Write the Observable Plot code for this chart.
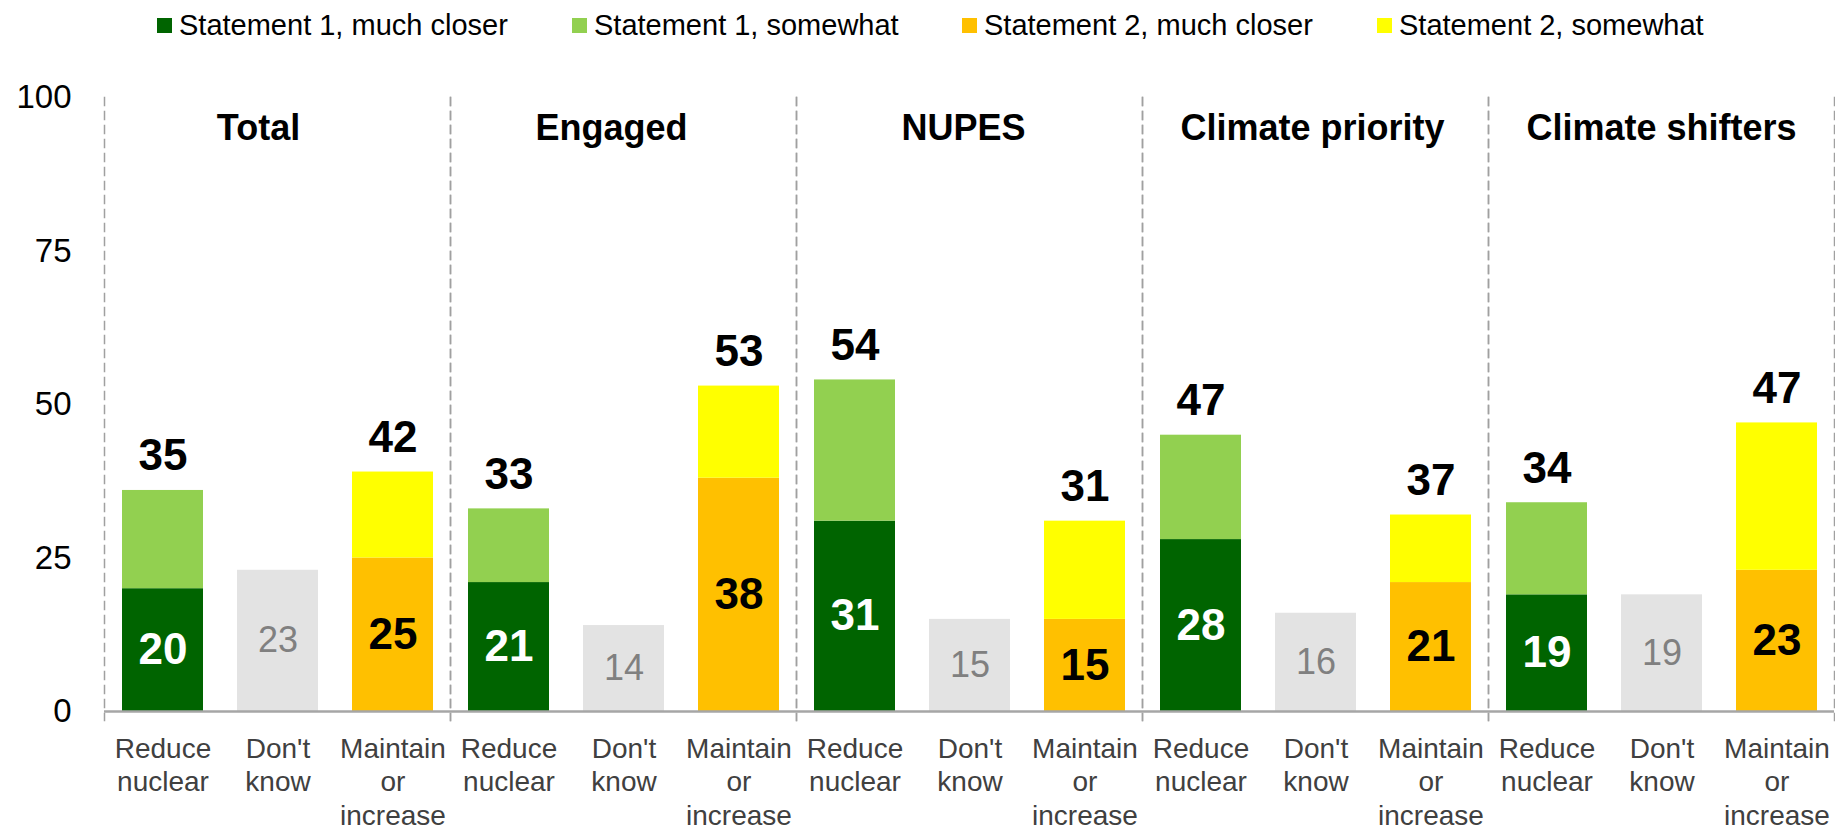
<!DOCTYPE html>
<html><head><meta charset="utf-8">
<script src="https://cdn.jsdelivr.net/npm/d3@7"></script>
<script src="https://cdn.jsdelivr.net/npm/@observablehq/plot@0.6"></script>
<style>
body{margin:0;background:#fff;font-family:"Liberation Sans",Arial,sans-serif;}
#legend{height:50px;}
#legend svg,#chart svg{display:block;}
</style></head><body>
<div id="legend"></div><div id="chart"></div>
<script>
// ---- data ----
const groups = ["Total", "Engaged", "NUPES", "Climate priority", "Climate shifters"];
const categories = ["Reduce nuclear", "Don't know", "Maintain or increase"];
const categoryTickLabels = ["Reduce\nnuclear", "Don't\nknow", "Maintain\nor\nincrease"];
const seriesNames = ["Statement 1, much closer", "Statement 1, somewhat", "Statement 2, much closer", "Statement 2, somewhat", "Don't know"];
const statement1Much = [20, 21, 31, 28, 19];
const statement1Somewhat = [16, 12, 23, 17, 15];
const dontKnow = [23, 14, 15, 16, 19];
const statement2Much = [25, 38, 15, 21, 23];
const statement2Somewhat = [14, 15, 16, 11, 24];
const reduceTotalLabels = [35, 33, 54, 47, 34];
const maintainTotalLabels = [42, 53, 31, 37, 47];
const yTicks = [0, 25, 50, 75, 100];

const seriesColors = ["#006400", "#92d050", "#ffc000", "#ffff00", "#e3e3e3"];

// ---- build rows ----
const rows = [];
const bottomLabels = [];
const topLabels = [];
groups.forEach((g, i) => {
  rows.push({group: g, category: categories[0], series: seriesNames[0], value: statement1Much[i]});
  rows.push({group: g, category: categories[0], series: seriesNames[1], value: statement1Somewhat[i]});
  rows.push({group: g, category: categories[1], series: seriesNames[4], value: dontKnow[i]});
  rows.push({group: g, category: categories[2], series: seriesNames[2], value: statement2Much[i]});
  rows.push({group: g, category: categories[2], series: seriesNames[3], value: statement2Somewhat[i]});
  bottomLabels.push({group: g, category: categories[0], value: statement1Much[i], kind: "s1"});
  bottomLabels.push({group: g, category: categories[1], value: dontKnow[i], kind: "dk"});
  bottomLabels.push({group: g, category: categories[2], value: statement2Much[i], kind: "s2"});
  topLabels.push({group: g, category: categories[0], top: statement1Much[i] + statement1Somewhat[i], label: reduceTotalLabels[i]});
  topLabels.push({group: g, category: categories[2], top: statement2Much[i] + statement2Somewhat[i], label: maintainTotalLabels[i]});
});

// ---- legend (layout only) ----
const legendSwatchX = [157, 572, 962, 1377];
const lsvg = d3.select("#legend").append("svg").attr("width", 1835).attr("height", 50);
legendSwatchX.forEach((sx, i) => {
  lsvg.append("rect").attr("x", sx).attr("y", 18).attr("width", 15).attr("height", 15).attr("fill", seriesColors[i]);
  lsvg.append("text").attr("x", sx + 22).attr("y", 35)
    .attr("font-size", 29).attr("font-family", "'Liberation Sans', Arial, sans-serif")
    .attr("fill", "#000").text(seriesNames[i]);
});

// ---- chart ----
const titleShift = {"Total": -19, "Engaged": -12, "NUPES": -6, "Climate priority": -3, "Climate shifters": 0};
const dash = {stroke: "#a0a0a0", strokeDasharray: "8,6", strokeWidth: 1.5, insetBottom: -9};
const chart = Plot.plot({
  width: 1835,
  height: 776,
  marginTop: 47,
  marginBottom: 115,
  marginLeft: 103,
  marginRight: 1,
  style: {fontFamily: "'Liberation Sans', Arial, sans-serif", background: "#fff"},
  fx: {domain: groups, padding: 0, axis: null},
  x: {domain: categories, paddingInner: 0.3, paddingOuter: 0.15, axis: null},
  y: {domain: [0, 100], axis: null},
  color: {domain: seriesNames, range: seriesColors},
  marks: [
    Plot.frame({anchor: "left", ...dash}),
    Plot.frame({anchor: "right", ...dash}),
    Plot.barY(rows, {fx: "group", x: "category", y: "value", fill: "series"}),
    Plot.ruleY([0], {stroke: "#a6a6a6", strokeWidth: 2.5}),
    Plot.axisY({ticks: yTicks, tickSize: 0, tickPadding: 33, fontSize: 33, label: null, color: "#000"}),
    Plot.axisX({tickSize: 0, tickPadding: 22, fontSize: 28, lineHeight: 1.21, color: "#404040",
      tickFormat: d => categoryTickLabels[categories.indexOf(d)], label: null}),
    ...groups.map(g => Plot.text([g], {fx: d => d, text: d => d, frameAnchor: "top", dy: 31, dx: titleShift[g],
      lineAnchor: "middle", fontSize: 36, fontWeight: "bold", fill: "#000"})),
    Plot.text(topLabels, {fx: "group", x: "category", y: "top", text: "label", dy: -20, lineAnchor: "bottom",
      fontSize: 44, fontWeight: "bold", fill: "#000"}),
    Plot.text(bottomLabels.filter(d => d.kind === "s1"), {fx: "group", x: "category", y: d => d.value / 2, text: "value",
      lineAnchor: "middle", fontSize: 44, fontWeight: "bold", fill: "#fff"}),
    Plot.text(bottomLabels.filter(d => d.kind === "s2"), {fx: "group", x: "category", y: d => d.value / 2, text: "value",
      lineAnchor: "middle", fontSize: 44, fontWeight: "bold", fill: "#000"}),
    Plot.text(bottomLabels.filter(d => d.kind === "dk"), {fx: "group", x: "category", y: d => d.value / 2, text: "value",
      lineAnchor: "middle", fontSize: 36, fill: "#808080"})
  ]
});
document.getElementById("chart").appendChild(chart);
</script>
</body></html>
